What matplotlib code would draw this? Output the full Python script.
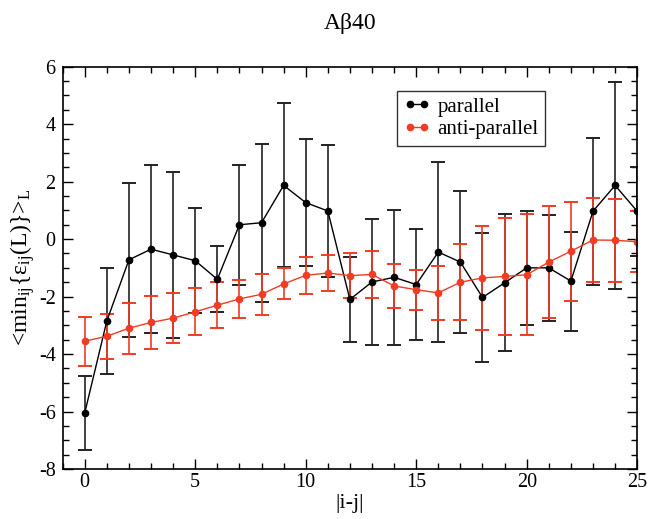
import numpy as np
from matplotlib import pyplot as plt
from matplotlib.ticker import MultipleLocator

dist = list(range(0, 26))

par = [-6.05, -2.85, -0.72, -0.35, -0.55, -0.75, -1.40, 0.50, 0.57, 1.87,
       1.27, 0.98, -2.10, -1.49, -1.33, -1.58, -0.45, -0.80, -2.03, -1.52,
       -1.00, -1.00, -1.46, 0.97, 1.87, 0.97]
par_err = [1.29, 1.83, 2.68, 2.93, 2.89, 1.83, 1.15, 2.08, 2.75, 2.85,
           2.22, 2.31, 1.49, 2.19, 2.35, 1.94, 3.12, 2.46, 2.25, 2.38,
           1.99, 1.85, 1.72, 2.55, 3.60, 1.55]

anti = [-3.55, -3.38, -3.10, -2.90, -2.75, -2.53, -2.30, -2.08, -1.92, -1.56,
        -1.26, -1.18, -1.27, -1.23, -1.63, -1.76, -1.87, -1.50, -1.35, -1.30,
        -1.24, -0.80, -0.42, -0.03, -0.04, -0.09]
anti_err = [0.85, 0.78, 0.89, 0.92, 0.86, 0.82, 0.80, 0.66, 0.72, 0.54,
            0.64, 0.61, 0.78, 0.82, 0.76, 0.69, 0.95, 1.33, 1.81, 2.02,
            2.10, 1.94, 1.72, 1.46, 1.45, 1.06]

red = '#f03c23'

plt.rc('font', family='Liberation Serif')
plt.rc('mathtext', fontset='custom', rm='Liberation Serif',
       it='Liberation Serif:italic', bf='Liberation Serif:bold')
plt.rc('axes', unicode_minus=False)

fig = plt.figure(figsize=(6.49, 5.19), dpi=100)
ax = fig.add_axes([0.0965, 0.0963, 0.8853, 0.7752])

ax.errorbar(dist, par, yerr=par_err, color='black', ecolor='#222222',
            lw=1.0, elinewidth=1.2, capsize=5.2, capthick=1.4,
            marker='o', ms=4.5, label='parallel')
ax.errorbar(dist, anti, yerr=anti_err, color=red, ecolor=red,
            lw=1.0, elinewidth=1.2, capsize=5.2, capthick=1.4,
            marker='o', ms=4.5, label='anti-parallel')

ax.set_xlim(-1, 25)
ax.set_ylim(-8, 6)
ax.xaxis.set_major_locator(MultipleLocator(5))
ax.xaxis.set_minor_locator(MultipleLocator(1))
ax.yaxis.set_major_locator(MultipleLocator(2))
ax.yaxis.set_minor_locator(MultipleLocator(0.5))
ax.tick_params(which='both', direction='in', top=True, right=True,
               labelsize=14.5, width=1.0)
ax.tick_params(which='major', length=7)
ax.tick_params(which='minor', length=4)
ax.tick_params(axis='x', which='major', pad=3)
ax.tick_params(axis='y', which='major', pad=5)
for s in ax.spines.values():
    s.set_linewidth(1.2)

ax.set_xlabel('|i-j|', fontsize=16, labelpad=1)
ax.set_ylabel(r'<min$_{\mathrm{ij}}${ε$_{\mathrm{ij}}$(L)}>$_{\mathrm{L}}$',
              fontsize=17, labelpad=1)
ax.set_title('Aβ40', fontsize=17, pad=27)

# legend without the error bar pieces
handles, labels = ax.get_legend_handles_labels()
leg = ax.legend([h[0] for h in handles], labels, loc='upper left',
                bbox_to_anchor=(0.582, 0.94), borderaxespad=0,
                fontsize=15, frameon=True, fancybox=False, edgecolor='black',
                numpoints=2, handlelength=1.3, handletextpad=0.35,
                borderpad=0.3, labelspacing=0.15)
leg.get_frame().set_linewidth(1.0)

fig.savefig('out.png', dpi=100)
